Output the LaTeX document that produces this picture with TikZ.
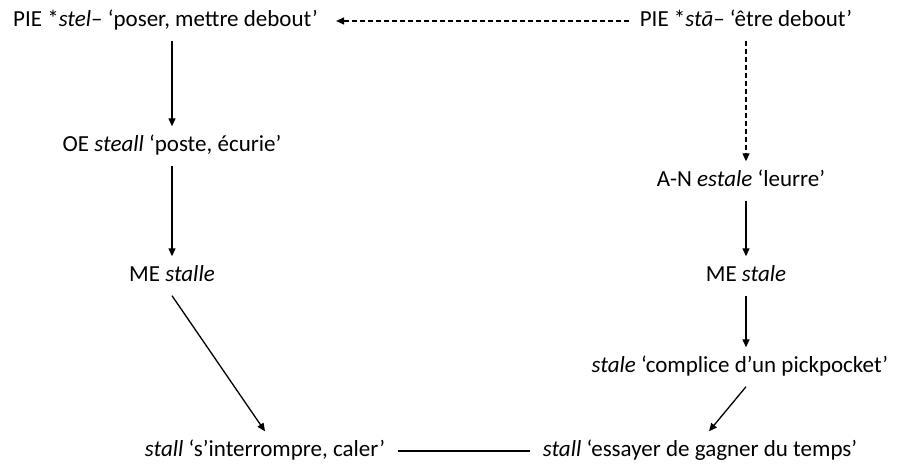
\documentclass[tikz,border=0pt]{standalone}
\usepackage{fontspec}
\setmainfont{Carlito}
\usetikzlibrary{arrows.meta}
\begin{document}
\begin{tikzpicture}[x=1pt,y=-1pt,
  lbl/.style={font=\fontsize{23}{28}\selectfont, inner xsep=0pt, inner ysep=9pt, text height=16pt, text depth=5pt},
  arr/.style={-{Triangle[length=8pt,width=7pt]}, line width=1.3pt, draw=black},
  dasharr/.style={arr, dash pattern=on 5pt off 3pt},
  plain/.style={line width=1.3pt, draw=black}]
\useasboundingbox (0,0) rectangle (899,466);
\node[lbl, anchor=west] (a) at (13,21) {PIE *\textit{stel}– ‘poser, mettre debout’};
\node[lbl] (b) at (746,21) {PIE *\textit{stā}– ‘être debout’};
\node[lbl] (oe) at (172,146) {OE \textit{steall} ‘poste, écurie’};
\node[lbl] (me) at (172,276) {ME \textit{stalle}};
\node[lbl] (an) at (741,181) {A-N \textit{estale} ‘leurre’};
\node[lbl] (me2) at (746,276) {ME \textit{stale}};
\node[lbl] (cp) at (740,367) {\textit{stale} ‘complice d’un pickpocket’};
\node[lbl] (s1) at (265,451) {\textit{stall} ‘s’interrompre, caler’};
\node[lbl] (s2) at (700,451) {\textit{stall} ‘essayer de gagner du temps’};
% connectors
\draw[dasharr] ([xshift=-11pt]b.west) -- ([xshift=18pt]a.east);
\draw[dasharr] (b.south -| me2) -- (an.north -| me2);
\draw[arr] (a.south -| oe) -- (oe.north);
\draw[arr] (oe.south) -- (me.north);
\draw[arr] (me.south) -- (s1.north);
\draw[arr] (an.south -| me2) -- (me2.north);
\draw[arr] (me2.south) -- (cp.north -| me2);
\draw[arr] (cp.south -| me2) -- ([xshift=9pt]s2.north);
\draw[plain] ([xshift=13pt]s1.east) -- ([xshift=-13pt]s2.west);
\end{tikzpicture}
\end{document}
